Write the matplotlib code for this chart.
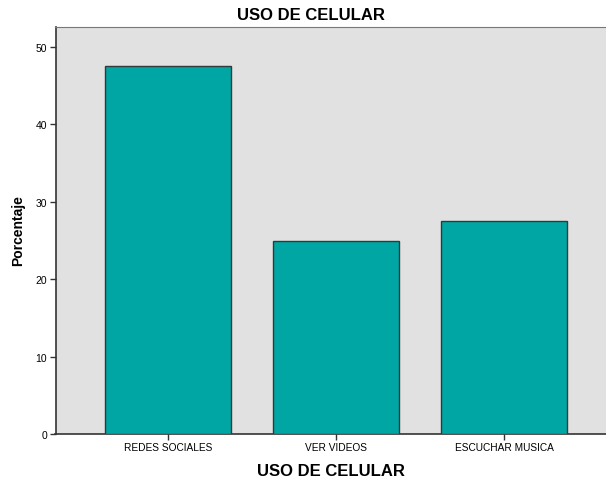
import matplotlib
matplotlib.use("Agg")
import matplotlib.pyplot as plt

categories = ["REDES SOCIALES", "VER VIDEOS", "ESCUCHAR MUSICA"]
values = [47.5, 25.0, 27.5]
yticks = [0, 10, 20, 30, 40, 50]

plt.rcParams['font.family'] = ['Liberation Sans', 'DejaVu Sans']

W, H = 606, 481
fig = plt.figure(figsize=(W/100, H/100), dpi=100)
l, r, t, b = 55.5, 617, 28, 435
ax = fig.add_axes([l/W, 1 - b/H, (r - l)/W, (b - t)/H])
ax.set_facecolor('#E1E1E1')
x = list(range(len(categories)))
ax.bar(x, values, width=0.75, color='#00A6A4', edgecolor='#2F3B3B', linewidth=1.0, zorder=3)
ax.set_xlim(-0.67, 2.67)
ax.set_ylim(0, 52.6)
ax.set_yticks(yticks)
ax.set_yticklabels([str(v) for v in yticks], fontsize=7.5)
ax.set_xticks(x)
ax.set_xticklabels(categories, fontsize=7.3)
ax.tick_params(axis='both', direction='out', length=4, width=1, color='#333333', pad=2)
for s in ['left', 'bottom']:
    ax.spines[s].set_color('#333333')
    ax.spines[s].set_linewidth(1.2)
ax.spines['top'].set_color('#777777')
ax.spines['right'].set_visible(False)

fig.text(311/W, 1 - 15/H, "USO DE CELULAR", ha='center', va='center', fontsize=12, fontweight='bold')
fig.text(331/W, 1 - 472/H, "USO DE CELULAR", ha='center', va='center', fontsize=12, fontweight='bold')
fig.text(18/W, 1 - 231/H, "Porcentaje", ha='center', va='center', fontsize=10, fontweight='bold', rotation=90)

fig.savefig("out.png", dpi=100)
